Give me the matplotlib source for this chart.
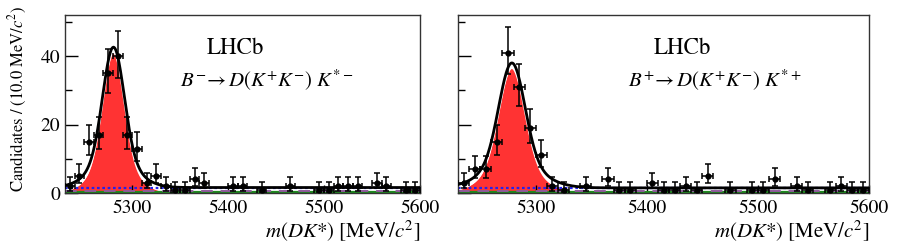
import numpy as np
import matplotlib
matplotlib.use("Agg")
import matplotlib.pyplot as plt
from matplotlib.ticker import MultipleLocator

plt.rcParams['font.family'] = ['STIXGeneral', 'DejaVu Serif']
plt.rcParams['mathtext.fontset'] = 'stix'

# ---- data ----
bin_centers = list(range(5235, 5600, 10))
counts_minus = [2, 5, 15, 17, 35, 40, 17, 13, 3, 5, 2, 1, 1, 4, 3, 0, 0, 2, 2, 0,
                1, 0, 0, 2, 0, 0, 1, 1, 2, 2, 2, 0, 3, 2, 0, 1, 1]
counts_plus = [3, 7, 7, 15, 41, 31, 19, 11, 2, 1, 0, 2, 0, 4, 1, 1, 0, 3, 1, 1,
               2, 1, 5, 0, 1, 0, 1, 1, 4, 0, 2, 1, 0, 1, 2, 1, 1]
# fit model parameters (mean, narrow amp, narrow sigma, wide amp, wide sigma, bkg levels)
fit_minus = dict(mean=5280.5, an=32.5, s1=11.0, aw=8.5, s2=22.0, comb=1.6, green=0.2, purple=0.5)
fit_plus = dict(mean=5278.5, an=29.0, s1=11.5, aw=7.5, s2=24.0, comb=1.5, green=0.2, purple=0.5)
labels = [r"$B^{-}\!\rightarrow D(K^{+}K^{-})\ K^{*-}$", r"$B^{+}\!\rightarrow D(K^{+}K^{-})\ K^{*+}$"]
xlim = (5230, 5600)
ylim = (0, 52)


def poisson_err(n):
    n = np.asarray(n, float)
    up = np.sqrt(n + 0.75) + 1.0
    with np.errstate(divide='ignore', invalid='ignore'):
        lo = n - n * (1 - 1 / (9 * n) - 1 / (3 * np.sqrt(n))) ** 3
    lo = np.where(n > 0, lo, 0)
    return lo, up


fig = plt.figure(figsize=(9, 2.46), dpi=100)
ax1 = fig.add_axes([65 / 900, 1 - 193 / 246, 355 / 900, 178 / 246])
ax2 = fig.add_axes([458 / 900, 1 - 193 / 246, 411 / 900, 178 / 246])

xs = np.linspace(xlim[0], xlim[1], 1000)
for ax, counts, p, lab, lhcx, labx in [
        (ax1, counts_minus, fit_minus, labels[0], 0.479, 0.324),
        (ax2, counts_plus, fit_plus, labels[1], 0.547, 0.414)]:
    sig = (p['an'] * np.exp(-0.5 * ((xs - p['mean']) / p['s1']) ** 2)
           + p['aw'] * np.exp(-0.5 * ((xs - p['mean']) / p['s2']) ** 2))
    total = sig + p['comb']
    ax.fill_between(xs, 0, sig, color='#ff3333', lw=0, zorder=1)
    ax.plot(xs, sig, color='white', lw=1.3, zorder=2)
    ax.plot(xs, np.full_like(xs, p['green']), color='#1f8a1f', lw=1.6, zorder=2)
    ax.plot(xs, np.full_like(xs, p['purple']), color='#8e5a9a', lw=1.4, ls=(0, (6, 4)), zorder=2)
    ax.plot(xs, np.full_like(xs, p['comb']), color='#2222ee', lw=1.6, ls=(0, (1.2, 1.2)), zorder=2)
    ax.plot(xs, total, color='black', lw=2.0, zorder=3)

    c = np.array(counts, float)
    xc = np.array(bin_centers, float)
    m = c > 0
    lo, up = poisson_err(c)
    ax.errorbar(xc[m], c[m], yerr=[lo[m], up[m]], xerr=5, fmt='o', color='black',
                ms=3.5, elinewidth=1.1, capsize=2, capthick=1.1, zorder=4)

    ax.set_xlim(*xlim)
    ax.set_ylim(*ylim)
    ax.xaxis.set_major_locator(MultipleLocator(100))
    ax.yaxis.set_major_locator(MultipleLocator(20))
    ax.yaxis.set_minor_locator(MultipleLocator(10))
    ax.tick_params(axis='both', which='major', direction='in', length=9, width=1,
                   labelsize=14, top=False, right=False)
    ax.tick_params(axis='y', which='minor', direction='in', length=5, width=1)
    ax.tick_params(axis='x', which='major', length=6, pad=5)
    for s in ax.spines.values():
        s.set_linewidth(1.0)
        s.set_color('#333333')
    ax.text(lhcx, 0.815, "LHCb", transform=ax.transAxes, ha='center', va='center', fontsize=16.5)
    ax.text(labx, 0.63, lab, transform=ax.transAxes, ha='left', va='center', fontsize=15)
    ax.set_xlabel(r"$m(DK$*$)$ [MeV/$c^{2}$]", fontsize=15, loc='right', labelpad=1)

ax2.tick_params(axis='y', labelleft=False)
ax1.set_ylabel(r"Candidates / (10.0 MeV/$c^{2}$)", fontsize=12)
ax1.yaxis.set_label_coords(-0.1, 0.53)
fig.savefig("out.png", dpi=100)
